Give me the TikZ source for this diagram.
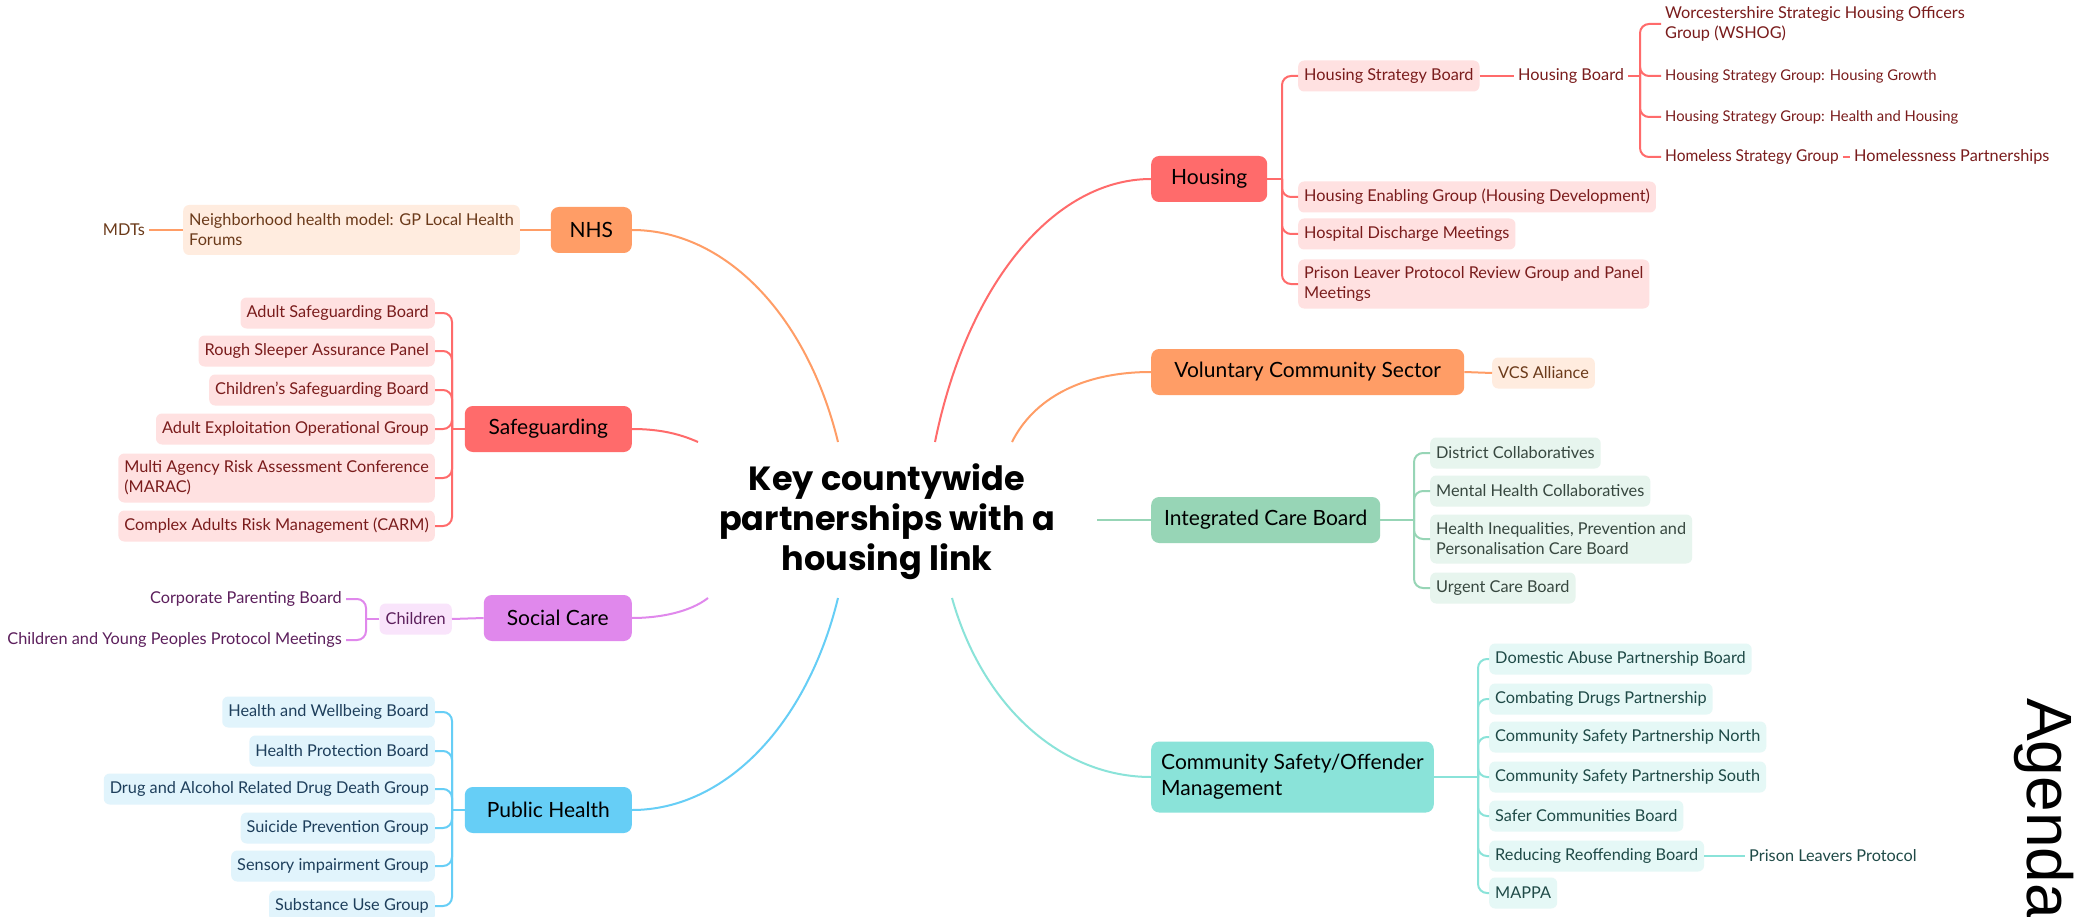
\documentclass[tikz,border=0pt]{standalone}
\usepackage{graphicx}
\usepackage{fontspec}
\setmainfont{Lato}
\newfontfamily\agendafont{Liberation Sans}
\newfontfamily\titlefont{Poppins}
\newcommand\mmsub{\fontsize{16.3}{20}\selectfont}
\newcommand\mmnarrow{\fontsize{14.8}{19}\selectfont}
\newcommand\mmmain{\fontsize{21}{26}\selectfont}
\newcommand\mmtitle{\titlefont\fontsize{33.5}{40}\selectfont\bfseries}
\definecolor{redM}{HTML}{FF6B6B}
\definecolor{redL}{HTML}{FFE1E1}
\definecolor{redT}{HTML}{7A1C1C}
\definecolor{oraM}{HTML}{FF9D66}
\definecolor{oraL}{HTML}{FFECDF}
\definecolor{oraT}{HTML}{6B3A1A}
\definecolor{vioM}{HTML}{E088EC}
\definecolor{vioL}{HTML}{F9E4FB}
\definecolor{vioT}{HTML}{5C1F5C}
\definecolor{bluM}{HTML}{66CEF6}
\definecolor{bluL}{HTML}{E1F4FC}
\definecolor{bluT}{HTML}{1E3F5C}
\definecolor{grnM}{HTML}{97D5B6}
\definecolor{grnL}{HTML}{E7F5EE}
\definecolor{grnT}{HTML}{37473F}
\definecolor{teaM}{HTML}{8AE3D9}
\definecolor{teaL}{HTML}{E5F8F6}
\definecolor{teaT}{HTML}{1F4A47}
\tikzset{
  box/.style={rounded corners=6pt, inner xsep=6pt, inner ysep=0pt, minimum height=31pt, font=\mmsub, align=left},
  mainbox/.style={rounded corners=8pt, inner xsep=10pt, inner ysep=0pt, minimum height=46pt, font=\mmmain, text=black, align=left},
  txt/.style={inner xsep=4pt, inner ysep=0pt, font=\mmsub, align=left},
  link/.style={line width=2pt},
  br/.style={line width=2pt, rounded corners=9pt},
  redbox/.style={box, fill=redL, text=redT},
  orabox/.style={box, fill=oraL, text=oraT},
  viobox/.style={box, fill=vioL, text=vioT},
  blubox/.style={box, fill=bluL, text=bluT},
  grnbox/.style={box, fill=grnL, text=grnT},
  teabox/.style={box, fill=teaL, text=teaT},
}
\begin{document}
\begin{tikzpicture}[x=1pt,y=-1pt]
\useasboundingbox[fill=white] (0,0) rectangle (2087,917);

% centre
\node[font=\mmtitle, align=center, inner sep=0pt] (center) at (887,522) {Key countywide\\partnerships with a\\housing link};
\coordinate (cNHS) at (838,442);
\coordinate (cHOU) at (935,442);
\coordinate (cVCS) at (1012,442);
\coordinate (cSAF) at (698,442);
\coordinate (cICB) at (1097,520);
\coordinate (cSOC) at (708,598);
\coordinate (cPH) at (838,598);
\coordinate (cCS) at (952,598);

% ---------------- Housing
\node[mainbox, fill=redM, anchor=west, minimum width=116pt] (housing) at (1151,179) {Housing};
\node[redbox, anchor=west] (hsb) at (1298,76) {Housing Strategy Board};
\node[redbox, anchor=west] (heg) at (1298,197) {Housing Enabling Group (Housing Development)};
\node[redbox, anchor=west] (hdm) at (1298,234) {Hospital Discharge Meetings};
\node[redbox, anchor=west, minimum height=49pt] (plp) at (1298,284) {Prison Leaver Protocol Review Group and Panel\\Meetings};
\node[txt, text=redT, anchor=west] (hboard) at (1514,76) {Housing Board};
\node[txt, text=redT, anchor=west] (wshog) at (1661,24) {Worcestershire Strategic Housing Officers\\Group (WSHOG)};
\node[txt, text=redT, anchor=west, font=\mmnarrow] (hsg1) at (1661,76) {Housing Strategy Group: Housing Growth};
\node[txt, text=redT, anchor=west, font=\mmnarrow] (hsg2) at (1661,117) {Housing Strategy Group: Health and Housing};
\node[txt, text=redT, anchor=west] (hsg3) at (1661,157) {\scalebox{0.95}[1]{Homeless Strategy Group}};
\node[txt, text=redT, anchor=west] (hp) at (1850,157) {Homelessness Partnerships};
\coordinate (hb) at (1282,179);
\coordinate (hb2) at (1640,76);
\begin{scope}[draw=redM]
\draw[link] (housing.east) -- (hb);
\foreach \c in {hsb,heg,hdm,plp} \draw[br] (hb) |- (\c.west);
\draw[link] (hsb.east) -- (hboard.west);
\draw[link] (hboard.east) -- (hb2);
\foreach \c in {wshog,hsg1,hsg2,hsg3} \draw[br] (hb2) |- (\c.west);
\draw[link] (hsg3.east) -- (hp.west);
\draw[link] (cHOU) .. controls (967,284) and (1054,179) .. (housing.west);
\end{scope}

% ---------------- NHS
\node[mainbox, fill=oraM, anchor=east, minimum width=81pt] (nhs) at (632,230) {NHS};
\node[orabox, anchor=east, minimum height=50pt] (nhm) at (520,230) {Neighborhood health model: GP Local Health\\Forums};
\node[txt, text=oraT, anchor=east] (mdt) at (149,230) {MDTs};
\begin{scope}[draw=oraM]
\draw[link] (nhs.west) -- (nhm.east);
\draw[link] (nhm.west) -- (mdt.east);
\draw[link] (cNHS) .. controls (807,315) and (725,230) .. (nhs.east);
\end{scope}

% ---------------- Safeguarding
\node[mainbox, fill=redM, anchor=east, minimum width=167pt] (safe) at (632,429) {Safeguarding};
\node[redbox, anchor=east] (s1) at (435,313) {Adult Safeguarding Board};
\node[redbox, anchor=east] (s2) at (435,351) {Rough Sleeper Assurance Panel};
\node[redbox, anchor=east] (s3) at (435,390) {Children's Safeguarding Board};
\node[redbox, anchor=east] (s4) at (435,429) {Adult Exploitation Operational Group};
\node[redbox, anchor=east, minimum height=49pt] (s5) at (435,478) {Multi Agency Risk Assessment Conference\\(MARAC)};
\node[redbox, anchor=east] (s6) at (435,526) {Complex Adults Risk Management (CARM)};
\coordinate (sb) at (452,429);
\begin{scope}[draw=redM]
\draw[link] (safe.west) -- (sb);
\foreach \c in {s1,s2,s3,s4,s5,s6} \draw[br] (sb) |- (\c.east);
\draw[link] (cSAF) .. controls (680,434) and (660,429) .. (safe.east);
\end{scope}

% ---------------- Social care
\node[mainbox, fill=vioM, anchor=east, minimum width=148pt] (soc) at (632,618) {Social Care};
\node[viobox, anchor=east] (chil) at (452,619) {Children};
\node[txt, text=vioT, anchor=east] (cpb) at (346,599) {Corporate Parenting Board};
\node[txt, text=vioT, anchor=east] (cyp) at (346,640) {Children and Young Peoples Protocol Meetings};
\coordinate (cb) at (366,619);
\begin{scope}[draw=vioM]
\draw[link] (soc.west) -- (chil.east);
\draw[link] (chil.west) -- (cb);
\foreach \c in {cpb,cyp} \draw[br] (cb) |- (\c.east);
\draw[link] (cSOC) .. controls (690,612) and (660,618) .. (soc.east);
\end{scope}

% ---------------- Public health
\node[mainbox, fill=bluM, anchor=east, minimum width=167pt] (ph) at (632,810) {Public Health};
\node[blubox, anchor=east] (p1) at (435,712) {Health and Wellbeing Board};
\node[blubox, anchor=east] (p2) at (435,751) {Health Protection Board};
\node[blubox, anchor=east] (p3) at (435,789) {Drug and Alcohol Related Drug Death Group};
\node[blubox, anchor=east] (p4) at (435,828) {Suicide Prevention Group};
\node[blubox, anchor=east] (p5) at (435,866) {Sensory impairment Group};
\node[blubox, anchor=east] (p6) at (435,906) {Substance Use Group};
\coordinate (pb) at (452,810);
\begin{scope}[draw=bluM]
\draw[link] (ph.west) -- (pb);
\foreach \c in {p1,p2,p3,p4,p5,p6} \draw[br] (pb) |- (\c.east);
\draw[link] (cPH) .. controls (807,725) and (725,810) .. (ph.east);
\end{scope}

% ---------------- VCS
\node[mainbox, fill=oraM, anchor=west, minimum width=313pt] (vcs) at (1151,372) {Voluntary Community Sector};
\node[orabox, anchor=west] (vcsa) at (1492,373) {VCS Alliance};
\begin{scope}[draw=oraM]
\draw[link] (vcs.east) -- (vcsa.west);
\draw[link] (cVCS) .. controls (1033,400) and (1080,372) .. (vcs.west);
\end{scope}

% ---------------- ICB
\node[mainbox, fill=grnM, anchor=west, minimum width=229pt] (icb) at (1151,520) {Integrated Care Board};
\node[grnbox, anchor=west] (i1) at (1430,453) {District Collaboratives};
\node[grnbox, anchor=west] (i2) at (1430,491) {Mental Health Collaboratives};
\node[grnbox, anchor=west, minimum height=49pt] (i3) at (1430,539) {Health Inequalities, Prevention and\\Personalisation Care Board};
\node[grnbox, anchor=west] (i4) at (1430,588) {Urgent Care Board};
\coordinate (ib) at (1414,520);
\begin{scope}[draw=grnM]
\draw[link] (icb.east) -- (ib);
\foreach \c in {i1,i2,i3,i4} \draw[br] (ib) |- (\c.west);
\draw[link] (cICB) -- (icb.west);
\end{scope}

% ---------------- Community safety
\node[mainbox, fill=teaM, anchor=west, minimum height=71pt, minimum width=281pt] (cs) at (1151,777) {Community Safety/Offender\\Management};
\node[teabox, anchor=west] (k1) at (1489,659) {Domestic Abuse Partnership Board};
\node[teabox, anchor=west] (k2) at (1489,699) {Combating Drugs Partnership};
\node[teabox, anchor=west] (k3) at (1489,737) {Community Safety Partnership North};
\node[teabox, anchor=west] (k4) at (1489,777) {Community Safety Partnership South};
\node[teabox, anchor=west] (k5) at (1489,816) {Safer Communities Board};
\node[teabox, anchor=west] (k6) at (1489,856) {Reducing Reoffending Board};
\node[teabox, anchor=west] (k7) at (1489,893) {MAPPA};
\node[txt, text=teaT, anchor=west] (plpr) at (1745,856) {Prison Leavers Protocol};
\coordinate (kb) at (1478,777);
\begin{scope}[draw=teaM]
\draw[link] (cs.east) -- (kb);
\foreach \c in {k1,k2,k3,k4,k5,k6,k7} \draw[br] (kb) |- (\c.west);
\draw[link] (k6.east) -- (plpr.west);
\draw[link] (cCS) .. controls (982,705) and (1060,777) .. (cs.west);
\end{scope}

% ---------------- Agenda
\node[rotate=-90, anchor=base west, inner sep=0pt, font=\agendafont\fontsize{64}{70}\selectfont] (agenda) at (2027,698) {Agenda};
\end{tikzpicture}
\end{document}
